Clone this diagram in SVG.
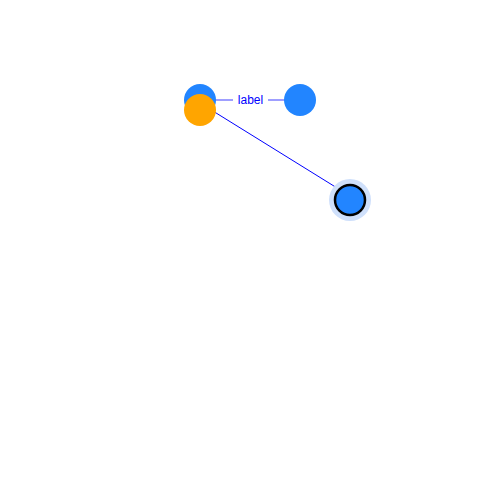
<svg xmlns="http://www.w3.org/2000/svg" width="500" height="500" viewBox="0 0 500 500">
<style>
.node{fill:#2285ff}
.edge{stroke:#0000ff;stroke-width:1;fill:none}
.faded{stroke-width:1.5;stroke-opacity:0.5}
.lbl{font-family:"Liberation Sans",Arial,sans-serif;font-size:12px;fill:#0000ff;text-anchor:middle}
</style>
<rect width="500" height="500" fill="#fff"/>
<g id="edges">
<line class="edge faded" x1="200" y1="100" x2="233" y2="100"/>
<line class="edge faded" x1="268" y1="100" x2="300" y2="100"/>
<text class="lbl" x="250.5" y="104">label</text>
<line class="edge" x1="200" y1="103" x2="350" y2="196"/>
</g>
<g id="n1"><circle class="node" cx="200" cy="100" r="16"/></g>
<g id="n2"><circle class="node" cx="300" cy="100" r="16"/></g>
<g id="n3"><circle cx="200" cy="110" r="16" fill="#ffa500"/></g>
<g id="n4">
<circle cx="350" cy="200" r="21" fill="#cfe0fb"/>
<circle class="node" cx="350" cy="200" r="15" stroke="#000" stroke-width="2.5"/>
</g>
</svg>
